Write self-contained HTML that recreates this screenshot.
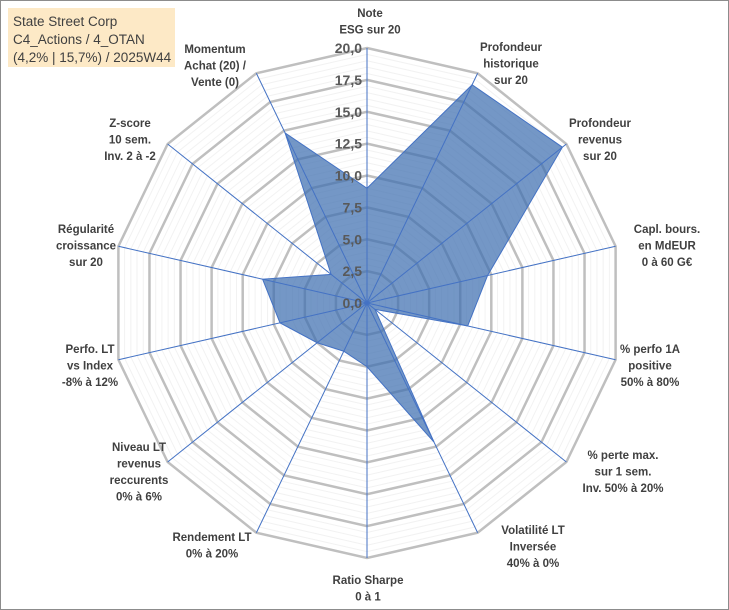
<!DOCTYPE html>
<html><head><meta charset="utf-8"><style>
body{margin:0;background:#fff;}
#wrap{position:relative;width:729px;height:610px;overflow:hidden;font-family:"Liberation Sans",sans-serif;}
svg{position:absolute;left:0;top:0;}
</style></head><body>
<div id="wrap">
<svg id="chart" width="729" height="610"></svg>
</div>
<script>
const categories=[["Note","ESG sur 20"],["Profondeur","historique","sur 20"],["Profondeur","revenus","sur 20"],["Capl. bours.","en MdEUR","0 à 60 G€"],["% perfo 1A","positive","50% à 80%"],["% perte max.","sur 1 sem.","Inv. 50% à 20%"],["Volatilité LT","Inversée","40% à 0%"],["Ratio Sharpe","0 à 1"],["Rendement LT","0% à 20%"],["Niveau LT","revenus","reccurents","0% à 6%"],["Perfo. LT","vs Index","-8% à 12%"],["Régularité","croissance","sur 20"],["Z-score","10 sem.","Inv. 2 à -2"],["Momentum","Achat (20) /","Vente (0)"]];
const values=[9.0,19.0,19.6,9.7,8.1,0.8,12.1,5.0,4.2,5.0,7.0,8.4,3.6,14.8];
const ticks=["0,0","2,5","5,0","7,5","10,0","12,5","15,0","17,5","20,0"];
const labelPos=[[370,12],[511,46],[600,122],[667,228],[650,348],[623,454],[533,529],[368,579],[212,536],[139,446],[90,348],[86,228],[130,122],[215,48]];
const NS="http://www.w3.org/2000/svg";
const svg=document.getElementById('chart');
const cx=367,cy=303,R=255,maxV=20,N=categories.length;
function ang(i){return i*2*Math.PI/N;}
function pt(i,v){const r=v/maxV*R;return [cx+r*Math.sin(ang(i)),cy-r*Math.cos(ang(i))];}
function el(t,a){const e=document.createElementNS(NS,t);for(const k in a)e.setAttribute(k,a[k]);svg.appendChild(e);return e;}
let b=el('rect',{x:0.5,y:0.5,width:728,height:609,fill:'#fff',stroke:'#8c8c8c','stroke-width':1});


for(let v=0.5;v<maxV;v+=0.5){if(Math.abs(v/2.5-Math.round(v/2.5))<1e-6)continue;
 const p=[];for(let i=0;i<N;i++)p.push(pt(i,v).join(','));
 const g=el('polygon',{points:p.join(' '),fill:'none',stroke:'#f2f2f2','stroke-width':1});
 
 }
for(let k=1;k<ticks.length;k++){const v=k*2.5;const p=[];for(let i=0;i<N;i++)p.push(pt(i,v).join(','));
 const g=el('polygon',{points:p.join(' '),fill:'none',stroke:'#bfbfbf','stroke-width':2.5});
 
 }
const sp=values.map((v,i)=>pt(i,v).join(',')).join(' ');
const s=el('polygon',{points:sp,fill:'#3f6fb0','fill-opacity':0.72,stroke:'#4472c4','stroke-width':1});


for(let i=0;i<N;i++){const [x,y]=pt(i,maxV);
 const l=el('line',{x1:cx,y1:cy,x2:x,y2:y,stroke:'#4472c4','stroke-width':1});
 
 }
ticks.forEach((t,k)=>{const y=cy-k*2.5/maxV*R;
 const e=el('text',{x:cx-5,y:y+5,'text-anchor':'end','font-size':14,'font-weight':'bold',fill:'#595959','font-family':'Liberation Sans, sans-serif'});
 e.textContent=t;
 
 });
categories.forEach((lines,i)=>{const [x,y]=labelPos[i];
 const e=el('text',{x:x,y:y+5,'text-anchor':'middle','font-size':11.5,'font-weight':'bold',fill:'#404040','font-family':'Liberation Sans, sans-serif'});
 
 
 lines.forEach((ln,j)=>{const ts=document.createElementNS(NS,'tspan');ts.setAttribute('x',x);ts.setAttribute('y',y+5+j*16.5);ts.textContent=ln;e.appendChild(ts);});});
const tb=el('rect',{x:8,y:8,width:167,height:59,fill:'#fde9c6'});


["State Street Corp","C4_Actions / 4_OTAN","(4,2% | 15,7%) / 2025W44"].forEach((t,j)=>{
 const e=el('text',{x:13,y:26+j*18,'font-size':13.5,fill:'#404040','font-family':'Liberation Sans, sans-serif'});
 e.textContent=t;
 
 });
</script>
</body></html>
